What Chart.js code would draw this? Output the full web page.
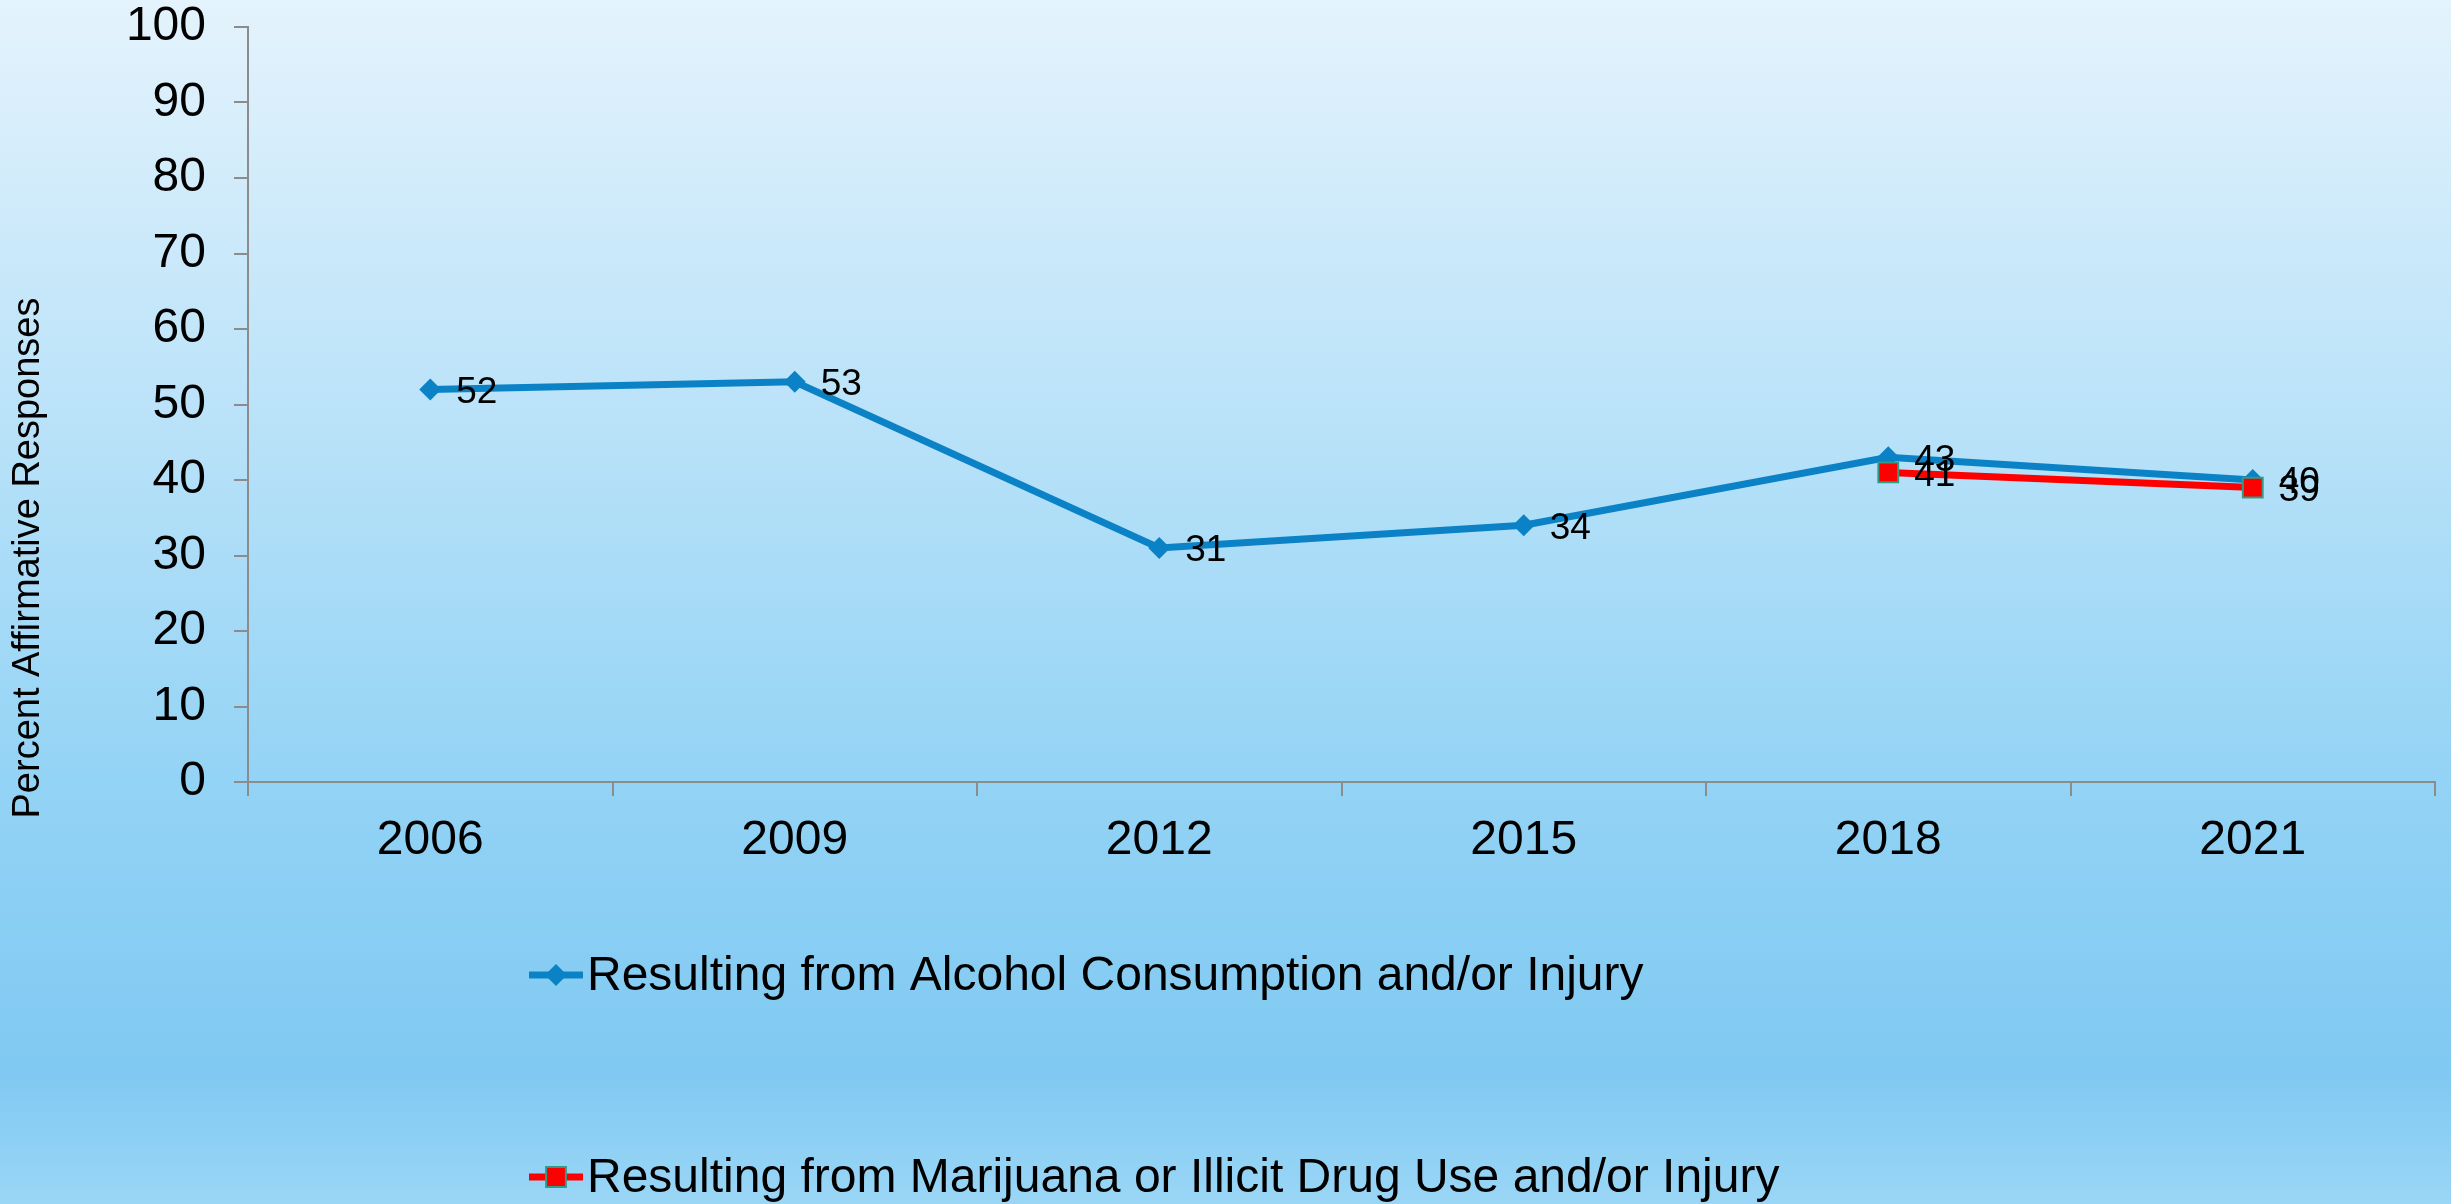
<!DOCTYPE html>
<html>
<head>
<meta charset="utf-8">
<title>Percent Affirmative Responses</title>
<script src="https://cdn.jsdelivr.net/npm/chart.js@4.4.1/dist/chart.umd.min.js"></script>
<style>
  html, body { margin: 0; padding: 0; }
  body { width: 2451px; height: 1204px; overflow: hidden; }
</style>
</head>
<body>
<canvas id="chart" width="2451" height="1204"></canvas>
<script>
// chart data
const years = ['2006', '2009', '2012', '2015', '2018', '2021'];
const alcoholValues = [52, 53, 31, 34, 43, 40];
const drugValues = [null, null, null, null, 41, 39];
const seriesNames = [
    'Resulting from Alcohol Consumption and/or Injury',
    'Resulting from Marijuana or Illicit Drug Use and/or Injury'
];
const yTitle = 'Percent Affirmative Responses';

const FONT = '"Liberation Sans", Arial, sans-serif';
const BLUE = '#0b82c6';
const RED = '#ff0000';
const TEAL = '#2e9c86';
const AXIS = '#8c8c8c';

// background gradient behind everything
const backgroundPlugin = {
    id: 'background',
    beforeDraw(chart) {
        const ctx = chart.ctx;
        const g = ctx.createLinearGradient(0, 0, 0, chart.height);
        g.addColorStop(0, '#e4f3fc');
        g.addColorStop(0.33, '#bce3f9');
        g.addColorStop(0.65, '#93d3f5');
        g.addColorStop(0.89, '#80c9f2');
        g.addColorStop(1, '#9ad6f6');
        ctx.save();
        ctx.fillStyle = g;
        ctx.fillRect(0, 0, chart.width, chart.height);
        ctx.restore();
    }
};

// value labels to the right of each point
const valueLabels = {
    id: 'valueLabels',
    afterDatasetsDraw(chart) {
        const ctx = chart.ctx;
        ctx.save();
        ctx.font = '37px ' + FONT;
        ctx.fillStyle = '#000';
        ctx.textAlign = 'left';
        ctx.textBaseline = 'middle';
        chart.data.datasets.forEach((ds, i) => {
            chart.getDatasetMeta(i).data.forEach((pt, j) => {
                const v = ds.data[j];
                if (v === null) return;
                ctx.fillText(String(v), pt.x + 26, pt.y + 3);
            });
        });
        ctx.restore();
    }
};

function drawMarker(ctx, ds, x, y) {
    ctx.save();
    ctx.fillStyle = ds.pointBackgroundColor;
    ctx.strokeStyle = ds.pointBorderColor;
    ctx.lineWidth = ds.pointBorderWidth;
    ctx.beginPath();
    if (ds.pointStyle === 'rectRot') {
        const r = ds.pointRadius;
        ctx.moveTo(x, y - r);
        ctx.lineTo(x + r, y);
        ctx.lineTo(x, y + r);
        ctx.lineTo(x - r, y);
    } else {
        const h = ds.pointRadius * Math.SQRT1_2;
        ctx.rect(x - h, y - h, 2 * h, 2 * h);
    }
    ctx.closePath();
    ctx.fill();
    if (ds.pointBorderWidth) ctx.stroke();
    ctx.restore();
}

// legend: one item per row, under the axis
const rowLegend = {
    id: 'rowLegend',
    afterDraw(chart) {
        const ctx = chart.ctx;
        const rows = [975, 1177];
        chart.data.datasets.forEach((ds, i) => {
            const y = rows[i];
            ctx.save();
            ctx.strokeStyle = ds.borderColor;
            ctx.lineWidth = ds.borderWidth;
            ctx.beginPath();
            ctx.moveTo(529, y);
            ctx.lineTo(583, y);
            ctx.stroke();
            ctx.restore();
            drawMarker(ctx, ds, 556, y);
            ctx.save();
            ctx.font = '48px ' + FONT;
            ctx.fillStyle = '#000';
            ctx.textAlign = 'left';
            ctx.textBaseline = 'middle';
            ctx.fillText(ds.label, 587, y + 2);
            ctx.restore();
        });

        // y axis title, drawn by hand to sit where the original puts it
        ctx.save();
        ctx.font = '38px ' + FONT;
        ctx.fillStyle = '#000';
        ctx.textAlign = 'center';
        ctx.textBaseline = 'middle';
        ctx.translate(29, 558);
        ctx.rotate(-Math.PI / 2);
        ctx.fillText(yTitle, 0, 0);
        ctx.restore();
    }
};

const ctx = document.getElementById('chart').getContext('2d');
new Chart(ctx, {
    type: 'line',
    data: {
        labels: years,
        datasets: [
            {
                label: seriesNames[0],
                data: alcoholValues,
                borderColor: BLUE,
                backgroundColor: BLUE,
                borderWidth: 7,
                pointStyle: 'rectRot',
                pointRadius: 11,
                pointHoverRadius: 11,
                pointBackgroundColor: BLUE,
                pointBorderColor: BLUE,
                pointBorderWidth: 0,
                tension: 0,
                order: 1
            },
            {
                label: seriesNames[1],
                data: drugValues,
                borderColor: RED,
                backgroundColor: RED,
                borderWidth: 7,
                pointStyle: 'rect',
                pointRadius: 14,
                pointHoverRadius: 14,
                pointBackgroundColor: RED,
                pointBorderColor: TEAL,
                pointBorderWidth: 2,
                tension: 0,
                order: 0
            }
        ]
    },
    options: {
        responsive: false,
        animation: false,
        devicePixelRatio: 1,
        layout: { padding: { top: 27, right: 5, left: 0, bottom: 0 } },
        plugins: {
            legend: { display: false },
            tooltip: { enabled: false }
        },
        scales: {
            x: {
                offset: true,
                grid: {
                    offset: true,
                    drawOnChartArea: false,
                    drawTicks: true,
                    tickLength: 14,
                    color: AXIS,
                    lineWidth: 2
                },
                border: { display: true, color: AXIS, width: 2 },
                ticks: {
                    color: '#000',
                    font: { family: FONT, size: 48 },
                    padding: 16,
                    maxRotation: 0
                },
                afterFit(scale) { scale.height = 422; }
            },
            y: {
                min: 0,
                max: 100,
                ticks: {
                    stepSize: 10,
                    color: '#000',
                    font: { family: FONT, size: 48 },
                    padding: 28
                },
                grid: {
                    drawOnChartArea: false,
                    drawTicks: true,
                    tickLength: 14,
                    color: AXIS,
                    lineWidth: 2
                },
                border: { display: true, color: AXIS, width: 2 },
                afterFit(scale) {
                    scale.width = 248;
                    // top of the plot is set by layout padding alone
                    scale.paddingTop = 0;
                    scale.paddingBottom = 0;
                }
            }
        }
    },
    plugins: [backgroundPlugin, valueLabels, rowLegend]
});
</script>
</body>
</html>
